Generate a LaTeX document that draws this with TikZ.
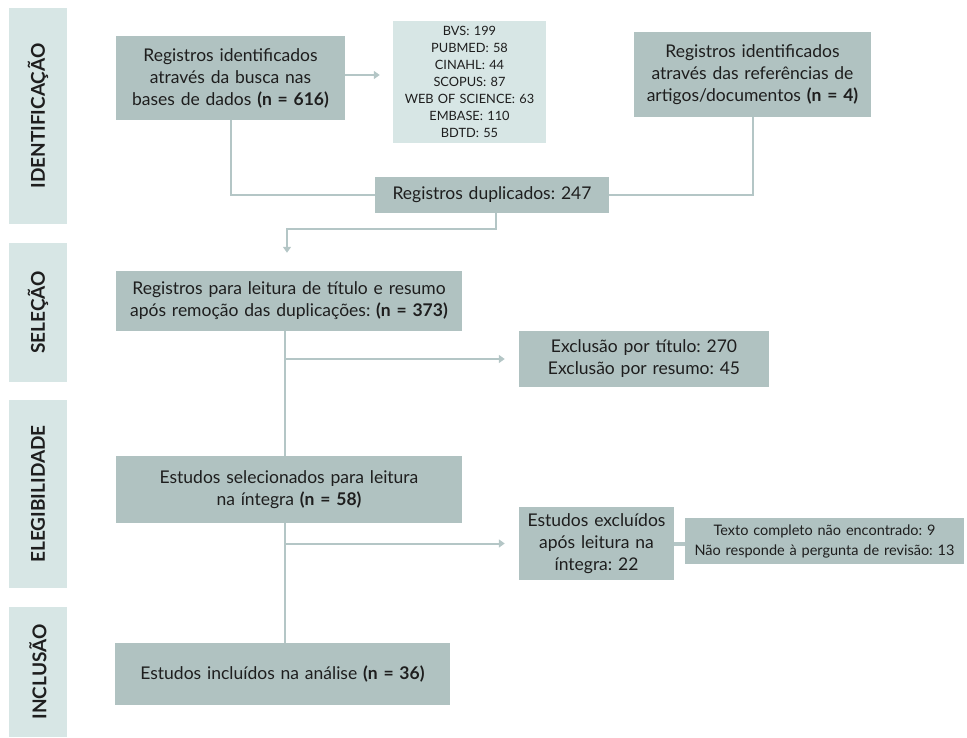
\documentclass[tikz,border=0pt]{standalone}
\usepackage{fontspec}
\setmainfont{Lato}
\usetikzlibrary{arrows.meta}
\definecolor{boxdark}{RGB}{176,194,193}
\definecolor{boxlight}{RGB}{215,230,229}
\definecolor{linec}{RGB}{180,198,198}
\definecolor{txt}{RGB}{30,30,30}
\frenchspacing
\tikzset{
  x=1pt, y=-1pt,
  dbox/.style={fill=boxdark, draw=none, inner sep=0pt, align=center, text=txt,
    font=\fontsize{17.5}{22}\selectfont},
  lbox/.style={fill=boxlight, draw=none, inner sep=0pt, align=center, text=txt,
    font=\fontsize{12.8}{17}\selectfont},
  phase/.style={fill=boxlight, draw=none, inner sep=0pt, text=txt},
  phaselabel/.style={rotate=90, text=txt, font=\fontsize{19}{20}\selectfont\bfseries},
  conn/.style={draw=linec, line width=2pt},
  arr/.style={conn, -{Triangle[width=8pt,length=6pt]}},
}
% box from corner (x1,y1) to (x2,y2)
\newcommand{\pbox}[6]{%
  \node[#1, minimum width={#4-#2}, minimum height={#5-#3}, text width={#4-#2-6}]
    (#6) at ({(#2+#4)/2},{(#3+#5)/2}) }
\begin{document}
\begin{tikzpicture}
\useasboundingbox (0,0) rectangle (967,737);
% phase bars
\pbox{phase}{9}{8}{67}{224}{ph1} {};
\node[phaselabel] (l1) at (ph1) {IDENTIFICAÇÃO};
\pbox{phase}{9}{243}{67}{382}{ph2} {};
\node[phaselabel] (l2) at (ph2) {SELEÇÃO};
\pbox{phase}{9}{400}{67}{588}{ph3} {};
\node[phaselabel] (l3) at (ph3) {ELEGIBILIDADE};
\pbox{phase}{9}{607}{67}{737}{ph4} {};
\node[phaselabel] (l4) at (ph4) {INCLUSÃO};

% boxes
\pbox{dbox}{116}{36}{345}{120}{b1} {Registros identificados\\através da busca nas\\bases de dados \textbf{(n = 616)}};
\pbox{lbox}{393}{21}{546}{143}{db} {BVS: 199\\PUBMED: 58\\CINAHL: 44\\SCOPUS: 87\\WEB OF SCIENCE: 63\\EMBASE: 110\\BDTD: 55};
\pbox{dbox}{634}{32}{871}{117}{ref} {Registros identificados\\através das referências de\\artigos/documentos \textbf{(n = 4)}};
\pbox{dbox}{375}{177}{609}{213}{dup} {Registros duplicados: 247};
\pbox{dbox}{116}{271}{462}{331}{b2} {Registros para leitura de título e resumo\\após remoção das duplicações: \textbf{(n = 373)}};
\pbox{dbox}{519}{331}{769}{387}{exc1} {Exclusão por título: 270\\Exclusão por resumo: 45};
\pbox{dbox}{116}{456}{462}{523}{b3} {Estudos selecionados para leitura\\na íntegra \textbf{(n = 58)}};
\pbox{dbox}{519}{507}{674}{580}{exc2} {Estudos excluídos\\após leitura na\\íntegra: 22};
\node[dbox, font=\fontsize{14.5}{20}\selectfont, minimum width=279, minimum height=46, text width=275]
  (tc) at (824.5,541) {Texto completo não encontrado: 9\\Não responde à pergunta de revisão: 13};
\pbox{dbox}{115}{643}{450}{705}{b4} {Estudos incluídos na análise \textbf{(n = 36)}};

% connectors
\coordinate (spine) at (285,0);
\draw[arr, shorten >=13pt] ([yshift=3pt]b1.east) -- ([yshift=3pt]b1.east -| db.west);
\draw[conn] (b1.south) |- (dup.west);
\draw[conn] (ref.south) |- (dup.east);
\draw[arr, shorten >=18pt] ([xshift=4pt]dup.south) -- ++(0,16) -| ([xshift=-2pt]b2.north);
\draw[conn] (b2.south -| spine) -- (b3.north -| spine);
\draw[conn] (b3.south -| spine) -- (b4.north -| spine);
\draw[arr, shorten >=14pt] (spine |- exc1.west) -- (exc1.west);
\draw[arr, shorten >=14pt] (spine |- exc2.west) -- (exc2.west);
\draw[draw=linec, line width=4pt] (exc2.east) -- (exc2.east -| tc.west);
\end{tikzpicture}
\end{document}
